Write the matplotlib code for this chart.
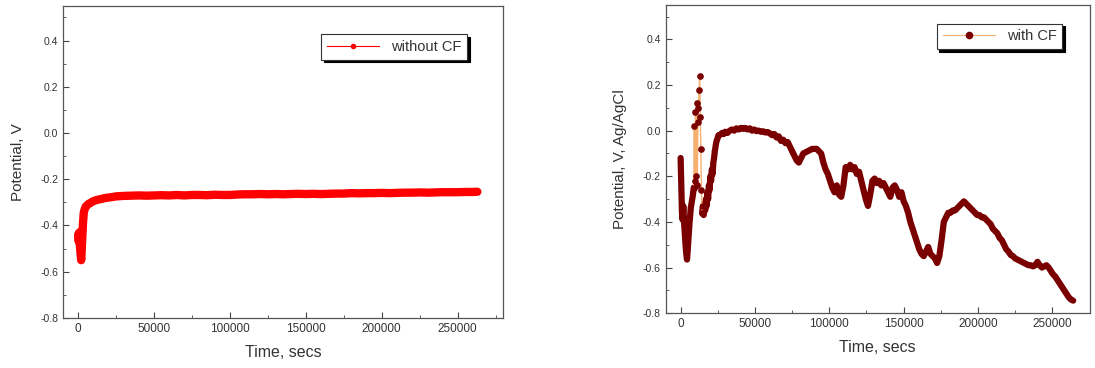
import numpy as np
import matplotlib.pyplot as plt
from matplotlib.ticker import MultipleLocator, FormatStrFormatter

plt.rcParams['font.family'] = ['Liberation Sans', 'DejaVu Sans']

# without CF
t_without = [0, 400, 800, 1200, 1600, 2000, 2400, 2800, 3200, 3700,
             4300, 5000, 6000, 7000, 8000, 9000, 10000, 12000, 14000, 16000,
             18000, 20000, 22500, 25000, 27500, 30000, 35000, 40000, 45000, 50000,
             55000, 60000, 65000, 70000, 75000, 80000, 85000, 90000, 95000, 100000,
             105000, 110000, 115000, 120000, 125000, 130000, 135000, 140000, 145000, 150000,
             155000, 160000, 165000, 170000, 175000, 180000, 185000, 190000, 195000, 200000,
             205000, 210000, 215000, 220000, 225000, 230000, 235000, 240000, 245000, 250000,
             255000, 260000, 263000]
v_without = [-0.44, -0.47, -0.43, -0.49, -0.52, -0.55, -0.50, -0.44, -0.39, -0.345,
             -0.33, -0.318, -0.312, -0.306, -0.303, -0.298, -0.295, -0.290, -0.287, -0.284,
             -0.281, -0.279, -0.277, -0.274, -0.273, -0.272, -0.271, -0.270, -0.271, -0.270,
             -0.269, -0.270, -0.268, -0.270, -0.268, -0.268, -0.269, -0.267, -0.268, -0.268,
             -0.266, -0.265, -0.265, -0.264, -0.265, -0.264, -0.265, -0.264, -0.263, -0.264,
             -0.263, -0.264, -0.263, -0.262, -0.262, -0.260, -0.261, -0.260, -0.260, -0.259,
             -0.260, -0.259, -0.258, -0.258, -0.257, -0.258, -0.257, -0.256, -0.256, -0.256,
             -0.255, -0.255, -0.254]

# with CF
t_with = [0, 300, 600, 900, 1300, 1800, 2300, 2800, 3300, 3800,
          4300, 4800, 5300, 5800, 6300, 6800, 7300, 7800, 8300, 8800,
          9200, 9600, 10000, 10400, 10800, 11200, 11600, 12000, 12400, 12800,
          13200, 13600, 14000, 14500,
          15000, 15500, 16000, 16500, 17000, 17500, 18000, 18500, 19000, 19500,
          20000, 20500, 21000, 21500, 22000, 22500, 23000, 23500, 24000, 24500,
          25000, 25500, 26000, 27000, 28000, 29000, 30000,
          31500, 33000, 34500, 36000, 37500, 39000, 40500, 42000, 43500, 45000,
          46500, 48000, 49500, 51000, 52500, 54000, 55500, 57000, 58500, 60000,
          61500, 63000, 64500, 66000, 67500, 69000, 70500, 72000, 73500, 75000,
          76500, 78000, 79500, 81000, 82500, 84000, 85500, 87000, 88500, 90000,
          91500, 93000, 94500, 96000, 97500, 99000, 100500, 102000, 103500, 105000,
          106500, 108000, 109500, 111000, 112500, 114000, 115500, 117000, 118500, 120000,
          121500, 123000, 124500, 126000, 127500, 129000, 130500, 132000, 133500, 135000,
          136500, 138000, 139500, 141000, 142500, 144000, 145500, 147000, 148500, 150000,
          151500, 153000, 154500, 156000, 157500, 159000, 160500, 162000, 163500, 165000,
          166500, 168000, 169500, 171000, 172500, 174000, 175500, 177000, 178500, 180000,
          181500, 183000, 184500, 186000, 187500, 189000, 190500, 192000, 193500, 195000,
          196500, 198000, 199500, 201000, 202500, 204000, 205500, 207000, 208500, 210000,
          211500, 213000, 214500, 216000, 217500, 219000, 220500, 222000, 223500, 225000,
          226500, 228000, 229500, 231000, 232500, 234000, 235500, 237000, 238500, 240000,
          241500, 243000, 244500, 246000, 247500, 249000, 250500, 252000, 253500, 255000,
          256500, 258000, 259500, 261000, 262500, 264000]
v_with = [-0.12, -0.20, -0.28, -0.36, -0.39, -0.33, -0.40, -0.45, -0.50, -0.54,
          -0.565, -0.52, -0.47, -0.42, -0.38, -0.34, -0.32, -0.30, -0.28, -0.25,
          0.02, -0.22, 0.08, -0.20, 0.12, -0.24, 0.04, 0.10, 0.18, 0.24,
          0.06, -0.08, -0.26, -0.36,
          -0.33, -0.37, -0.32, -0.35, -0.30, -0.33, -0.27, -0.30, -0.24, -0.26,
          -0.20, -0.22, -0.17, -0.19, -0.14, -0.12, -0.09, -0.07, -0.05, -0.04,
          -0.03, -0.02, -0.02, -0.015, -0.01, -0.015, -0.005,
          -0.01, 0.0, 0.005, 0.0, 0.01, 0.005, 0.012, 0.008, 0.012, 0.005,
          0.01, 0.0, 0.005, -0.002, 0.0, -0.005, -0.003, -0.008, -0.006, -0.012,
          -0.02, -0.015, -0.03, -0.025, -0.045, -0.04, -0.055, -0.05, -0.07, -0.09,
          -0.11, -0.13, -0.14, -0.12, -0.10, -0.095, -0.09, -0.085, -0.08, -0.08,
          -0.08, -0.09, -0.10, -0.14, -0.17, -0.19, -0.22, -0.25, -0.27, -0.24,
          -0.28, -0.29, -0.24, -0.16, -0.17, -0.15, -0.17, -0.16, -0.19, -0.18,
          -0.22, -0.26, -0.30, -0.33, -0.28, -0.22, -0.21, -0.23, -0.22, -0.24,
          -0.23, -0.25, -0.27, -0.29, -0.25, -0.24, -0.26, -0.29, -0.27, -0.31,
          -0.33, -0.36, -0.40, -0.43, -0.46, -0.49, -0.52, -0.54, -0.55, -0.53,
          -0.51, -0.54, -0.55, -0.56, -0.58, -0.55, -0.48, -0.40, -0.38, -0.36,
          -0.36, -0.35, -0.35, -0.34, -0.33, -0.32, -0.31, -0.32, -0.33, -0.34,
          -0.35, -0.36, -0.37, -0.37, -0.38, -0.38, -0.39, -0.40, -0.41, -0.43,
          -0.44, -0.45, -0.47, -0.48, -0.50, -0.52, -0.53, -0.545, -0.55, -0.56,
          -0.565, -0.57, -0.575, -0.58, -0.585, -0.59, -0.59, -0.595, -0.59, -0.575,
          -0.59, -0.60, -0.595, -0.59, -0.60, -0.615, -0.63, -0.64, -0.655, -0.67,
          -0.685, -0.70, -0.715, -0.73, -0.74, -0.745]

red_dark = '#7a0000'
orange = '#f5b070'

fig = plt.figure(figsize=(10.95, 3.68), dpi=100)
ax1 = fig.add_axes([0.0575, 0.136, 0.402, 0.848])
ax2 = fig.add_axes([0.608, 0.149, 0.387, 0.837])

# left: dense noisy trace drawn as a thick band
ax1.plot(t_without, v_without, color='red', lw=6, solid_joinstyle='round',
         solid_capstyle='round')
ax1.plot([], [], color='red', lw=0.8, marker='o', ms=3, label='without CF')

# right: thick band, with the spike region showing the connecting line
ax2.plot(t_with[:20], v_with[:20], color=red_dark, lw=4.5,
         solid_joinstyle='round', solid_capstyle='round')
ax2.plot(t_with[33:], v_with[33:], color=red_dark, lw=4.5,
         solid_joinstyle='round', solid_capstyle='round')
ax2.plot(t_with[19:35], v_with[19:35], color=orange, lw=1.0, marker='o',
         ms=3.8, mfc=red_dark, mec=red_dark)
ax2.plot([], [], color=orange, lw=0.8, marker='o', ms=4.5, mfc=red_dark,
         mec=red_dark, label='with CF')

for ax, ylab, xmax, ylx, anchor in [(ax1, 'Potential, V', 280000, -0.086, (0.918, 0.91)),
                                    (ax2, 'Potential, V, Ag/AgCl', 275000, -0.092, (0.936, 0.94))]:
    ax.set_xlim(-10000, xmax)
    ax.set_ylim(-0.8, 0.55)
    ax.xaxis.set_major_locator(MultipleLocator(50000))
    ax.xaxis.set_minor_locator(MultipleLocator(25000))
    ax.yaxis.set_major_locator(MultipleLocator(0.2))
    ax.yaxis.set_minor_locator(MultipleLocator(0.1))
    ax.yaxis.set_major_formatter(FormatStrFormatter('%.1f'))
    ax.tick_params(which='both', direction='in', colors='#444', labelcolor='#333')
    ax.tick_params(axis='x', labelsize=8.5)
    ax.tick_params(axis='y', labelsize=7.5)
    ax.tick_params(which='major', length=4)
    ax.tick_params(which='minor', length=2)
    for s in ax.spines.values():
        s.set_color('#555')
        s.set_linewidth(0.9)
    ax.set_xlabel('Time, secs', fontsize=11.5, color='#333', labelpad=7)
    ax.set_ylabel(ylab, fontsize=11, color='#333')
    ax.yaxis.set_label_coords(ylx, 0.5)
    leg = ax.legend(loc='upper right', bbox_to_anchor=anchor,
                    fancybox=False, framealpha=1, edgecolor='#333',
                    shadow={'color': 'black', 'alpha': 1}, fontsize=10.5,
                    handlelength=3.6, borderpad=0.4, borderaxespad=0)
    leg.get_frame().set_linewidth(0.8)
    for txt in leg.get_texts():
        txt.set_color('#333')

plt.savefig('out.png')
